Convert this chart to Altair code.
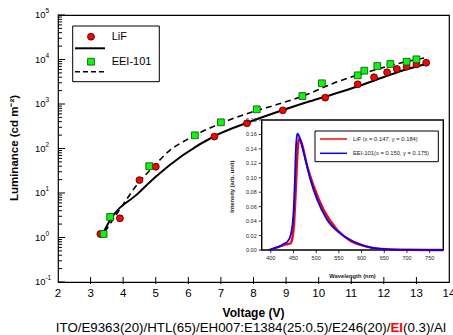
import altair as alt
import pandas as pd

# ---------------- main chart data ----------------
lif_v = [3.3, 3.9, 4.5, 5.0, 6.8, 7.8, 8.9, 10.2, 11.2, 11.7, 12.1, 12.4, 12.7, 13.0, 13.3]
lif_l = [1.2, 2.7, 19.5, 39, 185, 368, 720, 1390, 2770, 3980, 5150, 6120, 6920, 7770, 8470]
eei_v = [3.4, 3.6, 4.8, 6.2, 7.0, 8.1, 9.5, 10.1, 11.2, 11.4, 11.8, 12.2, 12.7, 13.0]
eei_l = [1.2, 2.9, 40, 198, 388, 760, 1510, 2920, 4410, 5610, 7140, 7920, 8930, 10090]

lif_fit_v = [3.34, 3.6, 4.46, 4.98, 5.84, 6.87, 7.89, 8.91, 9.73, 10.44, 11.21, 11.98, 12.70, 13.31]
lif_fit_l = [1.08, 2.47, 9.8, 22.5, 71.5, 201, 400, 733, 1150, 1650, 2500, 3980, 6030, 7920]
eei_fit_v = [3.44, 3.95, 4.46, 4.98, 5.44, 5.84, 6.87, 7.89, 8.91, 9.73, 10.44, 11.21, 11.98, 12.70, 13.36]
eei_fit_l = [1.35, 4.9, 16.5, 42.5, 92.5, 142, 337, 638, 1070, 1740, 2900, 4500, 6600, 9000, 11200]

x_ticks = [2, 3, 4, 5, 6, 7, 8, 9, 10, 11, 12, 13, 14]
x_inner_ticks = [3, 4, 5, 6, 7, 8, 9, 10, 11, 12, 13]
y_major = [0.1, 1, 10, 100, 1000, 10000, 100000]
y_exp = ["-1", "0", "1", "2", "3", "4", "5"]
minor_mult = [2, 3, 4, 5, 6, 7, 8, 9]
decades = [0.1, 1, 10, 100, 1000, 10000]
y_minor = [m * d for d in decades for m in minor_mult]

# ---------------- inset data ----------------
lif_nm = [398, 420, 435, 443, 448, 451, 454, 457, 460, 462.5, 465, 468.5, 479, 494, 516, 546, 575, 612, 656, 700, 780]
lif_int = [0.0, 0.005, 0.008, 0.009, 0.018, 0.035, 0.07, 0.112, 0.145, 0.154, 0.152, 0.147, 0.119, 0.089, 0.056, 0.028, 0.013, 0.0047, 0.001, 0.0003, 0.0]
eei_nm = [395, 410, 421, 430, 437, 444, 448, 450, 453, 455, 457, 459, 462, 465, 470, 476, 487, 502, 524, 553, 582, 612, 656, 700, 780]
eei_int = [0.0, 0.003, 0.0056, 0.009, 0.0117, 0.021, 0.036, 0.051, 0.095, 0.135, 0.155, 0.161, 0.158, 0.153, 0.141, 0.126, 0.098, 0.070, 0.042, 0.023, 0.0117, 0.0047, 0.001, 0.0003, 0.0]
inset_x_ticks = [400, 450, 500, 550, 600, 650, 700, 750]
inset_y_ticks = [0.0, 0.02, 0.04, 0.06, 0.08, 0.10, 0.12, 0.14, 0.16, 0.18]

W, H = 391, 267
FONT = "Liberation Sans"

xs = alt.Scale(domain=[2, 14], nice=False, zero=False)
ys = alt.Scale(type="log", domain=[0.1, 100000], nice=False)


def txt(t, x, y, **kw):
    return alt.Chart(pd.DataFrame({"t": [t]})).mark_text(font=FONT, **kw).encode(
        x=alt.value(x), y=alt.value(y), text="t:N")


def X(f):
    return alt.X(f, scale=xs, axis=None)


def Y(f):
    return alt.Y(f, scale=ys, axis=None)


df_lif = pd.DataFrame({"v": lif_v, "l": lif_l})
df_eei = pd.DataFrame({"v": eei_v, "l": eei_l})
df_lif_fit = pd.DataFrame({"v": lif_fit_v, "l": lif_fit_l})
df_eei_fit = pd.DataFrame({"v": eei_fit_v, "l": eei_fit_l})

solid = alt.Chart(df_lif_fit).mark_line(color="black", strokeWidth=2, interpolate="monotone").encode(
    x=X("v:Q"), y=Y("l:Q"))
dashed = alt.Chart(df_eei_fit).mark_line(color="black", strokeWidth=1.6, strokeDash=[6, 4],
                                         interpolate="monotone").encode(x=X("v:Q"), y=Y("l:Q"))
red_pts = alt.Chart(df_lif).mark_point(shape="circle", filled=True, fill="#ff0000", stroke="#330000",
                                       strokeWidth=0.8, size=48, opacity=1).encode(x=X("v:Q"), y=Y("l:Q"))
green_pts = alt.Chart(df_eei).mark_point(shape="square", filled=True, fill="#00ff00", stroke="#1a3a1a",
                                         strokeWidth=0.8, size=46, opacity=1).encode(x=X("v:Q"), y=Y("l:Q"))

df_ymaj = pd.DataFrame({"l": y_major, "e": y_exp})
df_ymin = pd.DataFrame({"l": y_minor})
ymaj_ticks = alt.Chart(df_ymaj).mark_rule(color="black", strokeWidth=1).encode(
    y=Y("l:Q"), x=alt.value(0), x2=alt.value(7))
ymin_ticks = alt.Chart(df_ymin).mark_rule(color="black", strokeWidth=1).encode(
    y=Y("l:Q"), x=alt.value(0), x2=alt.value(4))
ylab10 = alt.Chart(df_ymaj).mark_text(font=FONT, fontSize=9.5, align="left", baseline="middle",
                                      text="10", color="black").encode(y=Y("l:Q"), x=alt.value(-23))
ylabexp = alt.Chart(df_ymaj).mark_text(font=FONT, fontSize=6.5, align="left", baseline="middle",
                                       dy=-4, color="black").encode(y=Y("l:Q"), x=alt.value(-12.6), text="e:N")

df_xt = pd.DataFrame({"v": x_ticks})
df_xit = pd.DataFrame({"v": x_inner_ticks})
x_tick_marks = alt.Chart(df_xit).mark_rule(color="black", strokeWidth=1).encode(
    x=X("v:Q"), y=alt.value(H - 5), y2=alt.value(H + 2))
x_labels = alt.Chart(df_xt).mark_text(font=FONT, fontSize=11.5, baseline="middle", color="black").encode(
    x=X("v:Q"), y=alt.value(H + 11.5), text=alt.Text("v:Q", format="d"))

# legend (main)
leg_box = alt.Chart(pd.DataFrame({"a": [0]})).mark_rect(fill="white", stroke="black", strokeWidth=1).encode(
    x=alt.value(14.7), x2=alt.value(101.3), y=alt.value(11), y2=alt.value(66.7))
leg_red = alt.Chart(pd.DataFrame({"a": [0]})).mark_point(shape="circle", filled=True, fill="#ff0000",
                                                         stroke="#330000", strokeWidth=0.8, size=48,
                                                         opacity=1).encode(x=alt.value(33), y=alt.value(21.7))
leg_green = alt.Chart(pd.DataFrame({"a": [0]})).mark_point(shape="square", filled=True, fill="#00ff00",
                                                           stroke="#1a3a1a", strokeWidth=0.8, size=46,
                                                           opacity=1).encode(x=alt.value(33), y=alt.value(46.7))
leg_solid = alt.Chart(pd.DataFrame({"a": [0]})).mark_rule(color="black", strokeWidth=2).encode(
    x=alt.value(17), x2=alt.value(47), y=alt.value(33.3))
leg_dash = alt.Chart(pd.DataFrame({"a": [0]})).mark_rule(color="black", strokeWidth=1.6, strokeDash=[5, 3]).encode(
    x=alt.value(17), x2=alt.value(47), y=alt.value(56.7))
leg_t1 = txt("LiF", 53.7, 22.3, fontSize=11, align="left", baseline="middle", color="black")
leg_t2 = txt("EEI-101", 53.7, 46.7, fontSize=11, align="left", baseline="middle", color="black")

# titles and caption
ytitle = txt("Luminance (cd m⁻²)", -43, 133, fontSize=11.5, fontWeight="bold", angle=270,
             align="center", baseline="middle", color="black")
xtitle = txt("Voltage (V)", 195.5, 298.3, fontSize=12, fontWeight="bold", align="center",
             baseline="middle", color="black")
cap1 = txt("ITO/E9363(20)/HTL(65)/EH007:E1384(25:0.5)/E246(20)/", 332.4, 313.3, fontSize=13.3,
           align="right", baseline="middle", color="black")
cap2 = txt("EI", 332.4, 313.3, fontSize=13.3, fontWeight="bold", align="left", baseline="middle", color="#ff0000")
cap3 = txt("(0.3)/Al", 345.0, 313.3, fontSize=13.3, align="left", baseline="middle", color="black")

main = alt.layer(solid, dashed, red_pts, green_pts, ymin_ticks, ymaj_ticks, ylab10, ylabexp,
                 x_tick_marks, x_labels, leg_box, leg_solid, leg_dash, leg_red, leg_green,
                 leg_t1, leg_t2, ytitle, xtitle, cap1, cap2, cap3)

# ---------------- inset ----------------
IX0, IX1, IY0, IY1 = 203.7, 385.3, 235, 105
ixs = alt.Scale(domain=[380, 780], range=[IX0, IX1], nice=False, zero=False)
iys = alt.Scale(domain=[0, 0.18], range=[IY0, IY1], nice=False, zero=False)


def IX(f):
    return alt.X(f, scale=ixs, axis=None)


def IY(f):
    return alt.Y(f, scale=iys, axis=None)


frame = alt.Chart(pd.DataFrame({"a": [0]})).mark_rect(fill="white", stroke="black", strokeWidth=1.4).encode(
    x=alt.value(IX0), x2=alt.value(IX1), y=alt.value(IY1), y2=alt.value(IY0))
df_ls = pd.DataFrame({"nm": lif_nm, "i": lif_int})
df_es = pd.DataFrame({"nm": eei_nm, "i": eei_int})
red_line = alt.Chart(df_ls).mark_line(color="#ff0000", strokeWidth=2.4, interpolate="monotone").encode(
    x=IX("nm:Q"), y=IY("i:Q"))
blue_line = alt.Chart(df_es).mark_line(color="#0000ff", strokeWidth=1.8, interpolate="monotone").encode(
    x=IX("nm:Q"), y=IY("i:Q"))
df_ixt = pd.DataFrame({"nm": inset_x_ticks})
df_iyt = pd.DataFrame({"i": inset_y_ticks})
ix_ticks = alt.Chart(df_ixt).mark_rule(color="black", strokeWidth=0.8).encode(
    x=IX("nm:Q"), y=alt.value(IY0), y2=alt.value(IY0 + 3))
iy_ticks = alt.Chart(df_iyt).mark_rule(color="black", strokeWidth=0.8).encode(
    y=IY("i:Q"), x=alt.value(IX0 - 3), x2=alt.value(IX0))
ix_labels = alt.Chart(df_ixt).mark_text(font=FONT, fontSize=5.5, baseline="middle", color="#222222").encode(
    x=IX("nm:Q"), y=alt.value(IY0 + 8.3), text=alt.Text("nm:Q", format="d"))
iy_labels = alt.Chart(df_iyt).mark_text(font=FONT, fontSize=5.5, align="right", baseline="middle",
                                        color="#222222").encode(
    y=IY("i:Q"), x=alt.value(IX0 - 5), text=alt.Text("i:Q", format=".2f"))
i_xtitle = txt("Wavelength (nm)", 294.5, 260.7, fontSize=5.8, fontWeight="bold", align="center",
               baseline="middle", color="#222222")
i_ytitle = txt("Intensity (arb. unit)", 173.7, 171.7, fontSize=5.8, fontWeight="bold", angle=270,
               align="center", baseline="middle", color="#222222")
ileg_box = alt.Chart(pd.DataFrame({"a": [0]})).mark_rect(fill="white", stroke="black", strokeWidth=1).encode(
    x=alt.value(257), x2=alt.value(380.3), y=alt.value(116), y2=alt.value(146.7))
ileg_red = alt.Chart(pd.DataFrame({"a": [0]})).mark_rule(color="#ff0000", strokeWidth=1.5).encode(
    x=alt.value(262), x2=alt.value(289), y=alt.value(124))
ileg_blue = alt.Chart(pd.DataFrame({"a": [0]})).mark_rule(color="#0000ff", strokeWidth=1.5).encode(
    x=alt.value(262), x2=alt.value(289), y=alt.value(138.3))
ileg_t1 = txt("LiF (x = 0.147, y = 0.184)", 295, 124, fontSize=5.8, align="left", baseline="middle",
              color="#222222")
ileg_t2 = txt("EEI-101(x = 0.150, y = 0.175)", 295, 138.3, fontSize=5.8, align="left", baseline="middle",
              color="#222222")

inset = alt.layer(frame, red_line, blue_line, ix_ticks, iy_ticks, ix_labels, iy_labels, i_xtitle,
                  i_ytitle, ileg_box, ileg_red, ileg_blue, ileg_t1, ileg_t2)

chart = alt.layer(main, inset).resolve_scale(x="independent", y="independent").properties(
    width=W, height=H,
    autosize=alt.AutoSizeParams(type="none"),
    padding={"left": 58, "top": 15, "right": 4, "bottom": 53},
    background="white",
).configure_view(stroke="black", strokeWidth=1.2)

chart.save("out.html", embed_options={"renderer": "svg", "actions": False})
